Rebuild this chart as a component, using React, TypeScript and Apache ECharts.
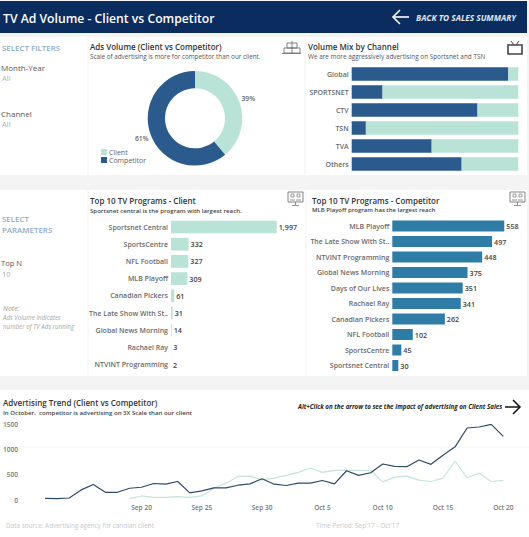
import React, { useEffect, useRef } from "react";
import * as echarts from "echarts";

const FONT = "'Open Sans', 'Noto Sans', sans-serif";
const DARK = "#2b5a8c";
const LIGHT = "#b9e3d7";
const TEAL = "#2f7da6";
const LINE_DARK = "#2e4a68";
const LINE_LIGHT = "#c6e4db";

const shareLabels = ["Client", "Competitor"];
const shareValues = [39, 61];

const channels = ["Global", "SPORTSNET", "CTV", "TSN", "TVA", "Others"];
const channelCompetitor = [94, 18.5, 75.5, 8.5, 48, 66];
const channelClient = [6, 81.5, 24.5, 91.5, 52, 34];

const clientPrograms = ["Sportsnet Central", "SportsCentre", "NFL Football", "MLB Playoff", "Canadian Pickers", "The Late Show With St..", "Global News Morning", "Rachael Ray", "NTVINT Programming"];
const clientProgramValues = [1997, 332, 327, 309, 61, 31, 14, 3, 2];

const competitorPrograms = ["MLB Playoff", "The Late Show With St..", "NTVINT Programming", "Global News Morning", "Days of Our Lives", "Rachael Ray", "Canadian Pickers", "NFL Football", "SportsCentre", "Sportsnet Central"];
const competitorProgramValues = [558, 497, 448, 375, 351, 341, 262, 102, 45, 30];

const days = [
  "Sep 12", "Sep 13", "Sep 14", "Sep 15", "Sep 16", "Sep 17", "Sep 18", "Sep 19", "Sep 20", "Sep 21", "Sep 22", "Sep 23", "Sep 24",
  "Sep 25", "Sep 26", "Sep 27", "Sep 28", "Sep 29", "Sep 30", "Oct 1", "Oct 2", "Oct 3", "Oct 4", "Oct 5", "Oct 6", "Oct 7", "Oct 8",
  "Oct 9", "Oct 10", "Oct 11", "Oct 12", "Oct 13", "Oct 14", "Oct 15", "Oct 16", "Oct 17", "Oct 18", "Oct 19", "Oct 20",
];
const trendCompetitor = [33, 27, 40, 200, 307, 153, 153, 233, 253, 327, 313, 367, 140, 180, 240, 240, 293, 320, 420, 313, 287, 333, 333, 387, 320, 580, 487, 540, 713, 667, 660, 793, 707, 887, 1053, 1427, 1447, 1500, 1260];
const trendClient = [null, null, null, null, null, null, null, 27, 80, 53, 53, 67, 53, 80, 233, 333, 467, 473, 400, 433, 487, 547, 633, 547, 587, 587, 587, 580, 360, 453, 473, 393, 367, 433, 773, 440, 533, 367, 387];

const t = (x: number, y: number, text: string, size: number, fill: string, fontWeight: any = 400, fontStyle = "normal", align = "left") => ({
  type: "text", x, y, silent: true,
  style: { text, fontSize: size, fill, fontWeight, fontStyle, fontFamily: FONT, align, verticalAlign: "middle" },
});
const panel = (x: number, y: number, width: number, height: number, fill = "#ffffff") => ({
  type: "rect", silent: true, shape: { x, y, width, height }, style: { fill },
});
const seg = (x1: number, y1: number, x2: number, y2: number, stroke: string, lineWidth = 1) => ({
  type: "line", silent: true, shape: { x1, y1, x2, y2 }, style: { stroke, lineWidth },
});
const poly = (points: number[][], stroke: string, lineWidth = 1) => ({
  type: "polyline", silent: true, shape: { points }, style: { stroke, lineWidth, fill: "none" },
});
const box = (x: number, y: number, width: number, height: number, stroke: string, lineWidth = 1, fill = "none") => ({
  type: "rect", silent: true, shape: { x, y, width, height }, style: { stroke, lineWidth, fill },
});
const monitor = (x: number, y: number) => [
  box(x, y, 15, 10, "#666", 0.8),
  box(x + 3, y + 2, 3, 3, "#777", 0.7),
  box(x + 9, y + 2, 3, 3, "#777", 0.7),
  seg(x + 2, y + 8, x + 7, y + 8, "#777", 0.8),
  seg(x + 8, y + 8, x + 13, y + 8, "#777", 0.8),
  seg(x + 7.5, y + 10, x + 7.5, y + 13, "#777", 0.8),
  seg(x + 4, y + 13.5, x + 11, y + 13.5, "#777", 0.8),
];

const graphics: any[] = [
  panel(0, 1, 527, 32, "#0a2c5e"),
  panel(0, 37, 527, 138),
  panel(0, 190, 527, 186),
  panel(0, 390, 529, 147),
  seg(88, 37, 88, 175, "#f3f3f3"),
  seg(305, 37, 305, 175, "#f3f3f3"),
  seg(88, 190, 88, 376, "#f3f3f3"),
  seg(306, 190, 306, 376, "#f3f3f3"),
  seg(0, 447, 529, 447, "#f6f6f6"),
  t(3, 18, "TV Ad Volume - Client vs Competitor", 12.2, "#ffffff", 600),
  t(416, 17, "BACK TO SALES SUMMARY", 8.3, "#dfe8f3", 700, "italic"),
  seg(393, 17, 409, 17, "#ffffff", 1.6),
  poly([[400, 10], [393, 17], [400, 24]], "#ffffff", 1.6),

  t(2, 48, "SELECT FILTERS", 7.9, "#8fabc9", 600),
  t(1, 67, "Month-Year", 8, "#555555"),
  t(2, 78, "All", 7.5, "#b0b0b0"),
  t(1, 113, "Channel", 8, "#555555"),
  t(2, 124, "All", 7.5, "#b0b0b0"),

  t(90, 46, "Ads Volume (Client vs Competitor)", 8, "#333333", 600),
  t(90, 56, "Scale of advertising is more for competitor than our client.", 6.3, "#555555"),
  t(308, 46, "Volume Mix by Channel", 8, "#333333", 600),
  t(308, 56, "We are more aggressively advertising on Sportsnet and TSN", 6.4, "#555555"),

  box(284, 48, 16, 5, "#666", 0.8),
  box(287, 43, 10, 5, "#666", 0.8),
  seg(292, 41, 292, 53, "#666", 0.8),
  seg(282, 53.5, 301, 53.5, "#666", 0.8),
  box(508, 45, 14, 9, "#444", 1.6),
  seg(511, 41, 514, 45, "#444", 1),
  seg(519, 41, 516, 45, "#444", 1),

  t(2, 219, "SELECT", 7.9, "#8fabc9", 600),
  t(2, 230, "PARAMETERS", 7.9, "#8fabc9", 600),
  t(1, 263, "Top N", 7.6, "#555555"),
  t(2, 274, "10", 7.5, "#b0b0b0"),
  t(3, 308, "Note:", 7, "#999999", 400, "italic"),
  t(3, 317.5, "Ads Volume indicates", 6.2, "#a8a8a8", 400, "italic"),
  t(3, 326, "number of TV Ads running", 6.2, "#a8a8a8", 400, "italic"),

  t(90, 200.5, "Top 10 TV Programs - Client", 8, "#333333", 600),
  t(90, 210, "Sportsnet central is the program with largest reach.", 6.1, "#444444", 600),
  t(312, 200.5, "Top 10 TV Programs - Competitor", 8, "#333333", 600),
  t(312, 210, "MLB Playoff program has the largest reach", 6, "#444444", 600),
  ...monitor(288, 192),
  ...monitor(510, 192),

  t(3, 402, "Advertising Trend (Client vs Competitor)", 8, "#333333", 600),
  t(3, 412, "In October,  competitor is advertising on 3X Scale than our client", 6.1, "#444444", 600),
  t(298, 406, "Alt+Click on the arrow to see the Impact of advertising on Client Sales", 6.2, "#222222", 700, "italic"),
  seg(505, 407, 520, 407, "#111111", 1.5),
  poly([[513, 400], [520, 407], [513, 414]], "#111111", 1.5),
  t(6, 525, "Data source: Advertising agency for candian client", 6.4, "#c8c8c8"),
  t(316, 525, "Time Period: Sep'17 - Oct'17", 6.4, "#c8c8c8"),
];

const catAxis = (gridIndex: number, data: string[]) => ({
  type: "category", gridIndex, data, inverse: true,
  axisLine: { show: false }, axisTick: { show: false },
  axisLabel: { fontSize: 7, color: "#6a6a6a", fontFamily: FONT, fontWeight: 600, margin: 3, interval: 0 },
});
const valAxis = (gridIndex: number, max: number) => ({
  type: "value", gridIndex, min: 0, max, show: false, splitLine: { show: false },
});
const barLabel = { show: true, position: "right", distance: 2, fontSize: 7.2, color: "#444444", fontFamily: FONT, fontWeight: 600 };

const option: any = {
  animation: false,
  backgroundColor: "#f4f4f4",
  textStyle: { fontFamily: FONT },
  graphic: { elements: graphics },
  legend: {
    data: shareLabels, orient: "vertical", left: 101, top: 148.5, padding: 0, itemWidth: 6, itemHeight: 6, itemGap: 1,
    icon: "rect", textStyle: { fontSize: 7, color: "#666666", fontFamily: FONT, padding: [0, 0, 0, -3] },
  },
  grid: [
    { left: 351.7, top: 65, width: 166.6, height: 108 },
    { left: 171, top: 218.4, width: 105.9, height: 154.8 },
    { left: 392.3, top: 218.25, width: 120.4, height: 155 },
    { left: 43.3, top: 424.3, width: 460, height: 75.7 },
  ],
  xAxis: [
    valAxis(0, 100),
    valAxis(1, 2000),
    valAxis(2, 600),
    {
      type: "category", gridIndex: 3, data: days, boundaryGap: false,
      axisLine: { show: false }, axisTick: { show: false },
      axisLabel: { fontSize: 6.6, color: "#777777", fontFamily: FONT, fontWeight: 600, margin: 4,
        interval: (i: number) => (i - 3) % 5 === 0, showMinLabel: false, showMaxLabel: true },
    },
  ],
  yAxis: [
    catAxis(0, channels),
    catAxis(1, clientPrograms),
    catAxis(2, competitorPrograms),
    {
      type: "value", gridIndex: 3, min: 0, max: 1500, interval: 500,
      axisLine: { show: false }, axisTick: { show: false }, splitLine: { show: false },
      axisLabel: { fontSize: 6.6, color: "#777777", fontFamily: FONT, fontWeight: 600, margin: 27, formatter: (v: number) => String(v) },
    },
  ],
  series: [
    {
      type: "pie", name: "Ads Volume", center: [195, 118.3], radius: [30, 47.3], startAngle: 90, clockwise: true,
      data: shareLabels.map((name, i) => ({ name, value: shareValues[i], itemStyle: { color: i === 0 ? LIGHT : DARK } })),
      label: { show: true, position: "outside", formatter: "{d}%", fontSize: 6.8, color: "#666666", fontFamily: FONT, fontWeight: 600 },
      labelLine: { show: false, length: 1, length2: 1 },
      labelLayout: (p: any) => (p.dataIndex === 0 ? { dx: -5, dy: -3 } : { dx: 5, dy: 4 }),
      emphasis: { disabled: true },
    },
    { type: "bar", name: "Competitor", stack: "mix", xAxisIndex: 0, yAxisIndex: 0, data: channelCompetitor, barWidth: 13.5, itemStyle: { color: DARK } },
    { type: "bar", name: "Client", stack: "mix", xAxisIndex: 0, yAxisIndex: 0, data: channelClient, barWidth: 13.5, itemStyle: { color: LIGHT } },
    { type: "bar", xAxisIndex: 1, yAxisIndex: 1, data: clientProgramValues, barWidth: 12.7, itemStyle: { color: LIGHT },
      label: { ...barLabel, formatter: (p: any) => p.value.toLocaleString("en-US") } },
    { type: "bar", xAxisIndex: 2, yAxisIndex: 2, data: competitorProgramValues, barWidth: 11, itemStyle: { color: TEAL }, label: barLabel },
    { type: "line", xAxisIndex: 3, yAxisIndex: 3, data: trendClient, symbol: "none", connectNulls: false, lineStyle: { color: LINE_LIGHT, width: 1.2 } },
    { type: "line", xAxisIndex: 3, yAxisIndex: 3, data: trendCompetitor, symbol: "none", lineStyle: { color: LINE_DARK, width: 1.2 } },
  ],
};

export default function App() {
  const ref = useRef<HTMLDivElement>(null);
  useEffect(() => {
    const chart = echarts.init(ref.current!, undefined, { renderer: "svg" });
    chart.setOption(option);
    return () => chart.dispose();
  }, []);
  return <div ref={ref} style={{ position: "absolute", left: 0, top: 0, width: 529, height: 537 }} />;
}
